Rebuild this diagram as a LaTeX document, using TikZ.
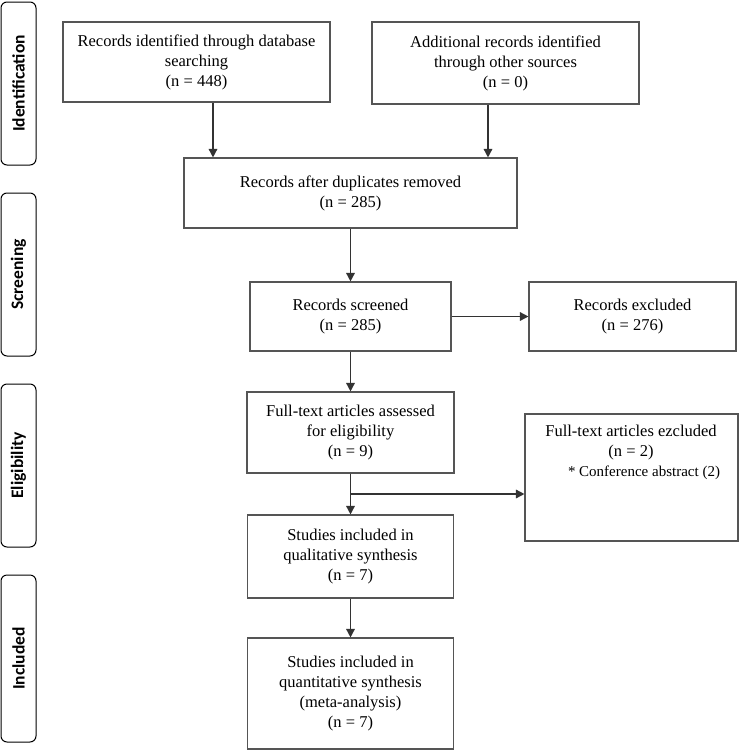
\documentclass[tikz,border=0pt]{standalone}
\usepackage{fontspec}
\setmainfont{Liberation Serif}
\newfontfamily\lblfont{Carlito}
\usetikzlibrary{arrows.meta}
\definecolor{boxgray}{HTML}{555555}
\definecolor{arrgray}{HTML}{333333}
\begin{document}
\begin{tikzpicture}[x=1pt,y=-1pt,
  fbox/.style={draw=boxgray, line width=1.1pt, align=center, inner sep=0pt,
    font=\fontsize{16.5}{20}\selectfont},
  sidebox/.style={draw=black, line width=1pt, rounded corners=6pt, inner sep=0pt,
    minimum width=35pt, font=\lblfont\bfseries\fontsize{17.5}{20}\selectfont},
  arr/.style={draw=arrgray, line width=1.5pt, -{Triangle[width=8.5pt,length=8.5pt]}},
  ln/.style={draw=arrgray, line width=1.5pt}]
\useasboundingbox (0,0) rectangle (740,750);

% side labels
\node[sidebox, minimum height=163pt] (s1) at (18.5,83.5) {\rotatebox{90}{Identification}};
\node[sidebox, minimum height=163pt] (s2) at (18.5,274.5) {\rotatebox{90}{Screening}};
\node[sidebox, minimum height=163pt] (s3) at (18.5,465.5) {\rotatebox{90}{Eligibility}};
\node[sidebox, minimum height=167pt] (s4) at (18.5,658.5) {\rotatebox{90}{Included}};

% boxes
\node[fbox, minimum width=267pt, minimum height=80pt] (b1) at (196.5,62)
  {Records identified through database\\searching\\(n = 448)};
\node[fbox, minimum width=267pt, minimum height=82pt] (b2) at (505.5,63)
  {Additional records identified\\through other sources\\(n = 0)};
\node[fbox, minimum width=333pt, minimum height=70pt] (b3) at (350.5,193)
  {Records after duplicates removed\\(n = 285)};
\node[fbox, minimum width=201pt, minimum height=69pt] (scr) at (350.5,316.5)
  {Records screened\\(n = 285)};
\node[fbox, minimum width=207pt, minimum height=69pt] (exc) at (632.5,316.5)
  {Records excluded\\(n = 276)};
\node[fbox, minimum width=207pt, minimum height=81pt] (ft) at (350.5,432.5)
  {Full-text articles assessed\\for eligibility\\(n = 9)};
\node[fbox, minimum width=213pt, minimum height=127pt] (exc2) at (631.5,477.5) {};
\node[align=center, inner sep=0pt, font=\fontsize{16.5}{20}\selectfont] (exc2t) at (631,452)
  {Full-text articles ezcluded\\(n = 2)\\{\fontsize{15}{20}\selectfont\hspace*{26pt}* Conference abstract (2)}};
\node[fbox, minimum width=206pt, minimum height=83pt] (qual) at (350.5,556.5)
  {Studies included in\\qualitative synthesis\\(n = 7)};
\node[fbox, minimum width=206pt, minimum height=111pt] (quant) at (350.5,693.5)
  {Studies included in\\quantitative synthesis\\(meta-analysis)\\(n = 7)};

% connectors
\draw[arr] ([xshift=16.5pt]b1.south) -- ([xshift=16.5pt]b1.south |- b3.north);
\draw[arr] ([xshift=-17.5pt]b2.south) -- ([xshift=-17.5pt]b2.south |- b3.north);
\draw[arr] (b3.south) -- (scr.north);
\draw[arr] (scr.east) -- (exc.west);
\draw[arr] (scr.south) -- (ft.north);
\coordinate (br) at (350.5,494);
\draw[arr] (ft.south) -- (qual.north);
\draw[arr] (br) -- (br -| exc2.west);
\draw[arr] (qual.south) -- (quant.north);
\end{tikzpicture}
\end{document}
